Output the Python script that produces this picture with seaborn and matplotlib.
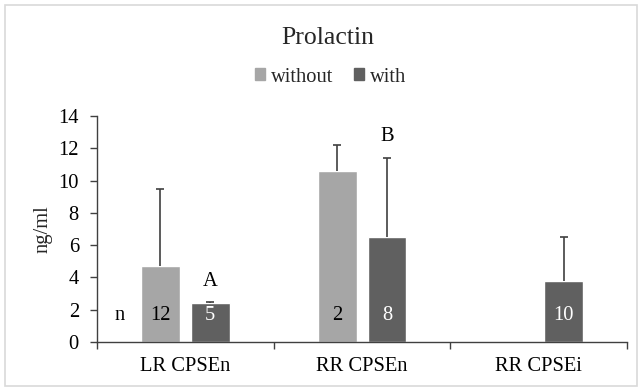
import matplotlib
matplotlib.use("Agg")
import matplotlib.pyplot as plt
import matplotlib.patches as mpatches
from matplotlib.ticker import FixedLocator
import seaborn as sns
import pandas as pd

categories = ["LR CPSEn", "LR CPSEn", "RR CPSEn", "RR CPSEn", "RR CPSEi"]
groups = ["without", "with", "without", "with", "with"]
means = [4.7, 2.4, 10.6, 6.5, 3.8]
err_up = [4.8, 0.05, 1.6, 4.9, 2.7]
n_labels = ["12", "5", "2", "8", "10"]
letters = ["", "A", "", "B", ""]
cat_order = ["LR CPSEn", "RR CPSEn", "RR CPSEi"]
hue_order = ["without", "with"]
palette = {"without": "#a6a6a6", "with": "#606060"}

df = pd.DataFrame({"cat": categories, "grp": groups, "val": means,
                   "err": err_up, "n": n_labels, "let": letters})

sns.set_theme(style="white")
plt.rcParams["font.family"] = ["Liberation Serif", "DejaVu Serif"]

FS = 14.8

fig = plt.figure(figsize=(6.42, 3.91), dpi=100)
ax = fig.add_axes([0.151, 0.1253, 0.826, 0.578])

sns.barplot(data=df, x="cat", y="val", hue="grp", order=cat_order,
            hue_order=hue_order, palette=palette, width=0.564, gap=0.22,
            errorbar=None, saturation=1, ax=ax, legend=False)

bars = [p for p in ax.patches if p.get_height() > 0]
for p in bars:
    xc = p.get_x() + p.get_width() / 2
    h = p.get_height()
    ci = int(round(xc))
    grp = "without" if xc < ci else "with"
    row = df[(df["cat"] == cat_order[ci]) & (df["grp"] == grp)].iloc[0]
    _, caps, _ = ax.errorbar(xc, h, yerr=[[0], [row["err"]]], fmt="none", ecolor="#404040",
                             elinewidth=1.2, capsize=3, capthick=1.2, zorder=3)
    if len(caps) == 2:
        caps[0].set_visible(False)
    tcol = "black" if grp == "without" else "white"
    ax.text(xc, 1.65, row["n"], ha="center", va="center", color=tcol, fontsize=FS)
    if row["let"]:
        ax.text(xc, h + row["err"] + 1.3, row["let"], ha="center", va="center",
                color="black", fontsize=FS)

ax.text(-0.37, 1.65, "n", ha="center", va="center", color="black", fontsize=FS)

ax.set_xlim(-0.5, 2.5)
ax.set_ylim(0, 14)
ax.set_yticks(range(0, 15, 2))
ax.set_xlabel("")
ax.set_ylabel("ng/ml", fontsize=FS, labelpad=4)
ax.xaxis.set_minor_locator(FixedLocator([-0.5, 0.5, 1.5, 2.5]))
ax.tick_params(axis="x", which="major", length=0, labelsize=FS, pad=11, colors="black")
ax.tick_params(axis="x", which="minor", length=5, width=1, color="#404040", direction="out", bottom=True)
ax.tick_params(axis="y", length=5, width=1, color="#404040", direction="out", labelsize=FS, left=True, pad=8)
for lab in ax.get_xticklabels() + ax.get_yticklabels():
    lab.set_color("black")
for s in ["top", "right"]:
    ax.spines[s].set_visible(False)
for s in ["left", "bottom"]:
    ax.spines[s].set_color("#404040")
    ax.spines[s].set_linewidth(1)
ax.spines["left"].set_bounds(0, 14)

handles = [mpatches.Patch(color=palette[h], label=h) for h in hue_order]
fig.legend(handles=handles, loc="center", bbox_to_anchor=(0.515, 0.803), ncol=2,
           frameon=False, fontsize=FS, handlelength=0.5, handleheight=0.5,
           handletextpad=0.3, columnspacing=1.0)

fig.text(0.511, 0.903, "Prolactin", ha="center", va="center", fontsize=18.5)

border = mpatches.Rectangle((5 / 642, 5 / 391), 632 / 642, 381 / 391, transform=fig.transFigure,
                            fill=False, edgecolor="#d9d9d9", linewidth=1.2)
fig.patches.append(border)

fig.savefig("out.png", dpi=100)
